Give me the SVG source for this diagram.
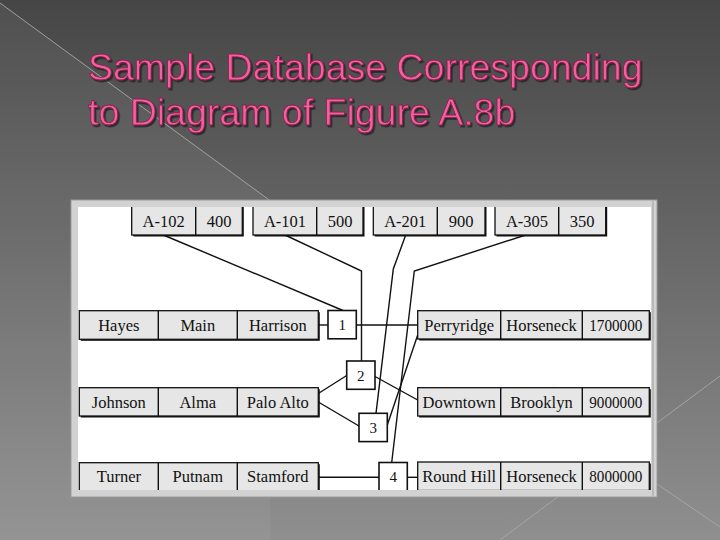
<svg xmlns="http://www.w3.org/2000/svg" width="720" height="540" viewBox="0 0 720 540">
<defs>
<linearGradient id="bg" x1="0" y1="0" x2="0" y2="1">
<stop offset="0" stop-color="#464646"/>
<stop offset="1" stop-color="#8f8f8f"/>
</linearGradient>
<filter id="ts" x="-5%" y="-20%" width="110%" height="140%">
<feDropShadow dx="1.6" dy="1.8" stdDeviation="0.6" flood-color="#222" flood-opacity="0.9"/>
</filter>
<clipPath id="panelClip"><rect x="78" y="207" width="573" height="283"/></clipPath>
</defs>
<style>
.title{font-family:"Liberation Sans",Arial,sans-serif;font-size:37.5px;fill:#f2609e;stroke:#8c1f4f;stroke-width:0.8px;filter:url(#ts)}
.cell{fill:#e6e6e6;stroke:#111;stroke-width:1.3}
.shadow{fill:#111}
.box{fill:#fff;stroke:#111;stroke-width:1.6}
.t{font-family:"Liberation Serif","Times New Roman",serif;font-size:16.5px;fill:#111;text-anchor:middle}
.n{font-family:"Liberation Serif","Times New Roman",serif;font-size:15px;fill:#111;text-anchor:middle}
.c{fill:none;stroke:#111;stroke-width:1.4}
.deco{fill:none;stroke:#a8a8a8;stroke-width:0.9}
</style>
<rect x="0" y="0" width="720" height="540" fill="url(#bg)"/>
<polygon points="0,3 270,200 270,540 0,540" fill="#ffffff" opacity="0.05"/>
<g id="decor">
<line class="deco" x1="0" y1="3" x2="272" y2="202"/>
<line class="deco" x1="720" y1="376" x2="500" y2="540"/>
<line class="deco" x1="600" y1="445" x2="720" y2="527"/>
</g>
<g id="title">
<text class="title" x="88" y="80">Sample Database Corresponding</text>
<text class="title" x="88" y="125">to Diagram of Figure A.8b</text>
</g>
<g id="panel">
<rect x="71" y="200" width="586" height="297" fill="#d2d2d2" stroke="#9a9a9a" stroke-width="1"/>
<rect x="78" y="207" width="573" height="283" fill="#ffffff"/>
<line x1="653" y1="201" x2="653" y2="496" stroke="#a0a0a0" stroke-width="1"/>
</g>
<g clip-path="url(#panelClip)">
<g id="connectors">
<polyline class="c" points="163.3,235 343,310.5"/>
<polyline class="c" points="285,235 361.5,271 361.5,361"/>
<polyline class="c" points="405.7,235 393.3,269 376,413.3"/>
<polyline class="c" points="525.7,235 414.3,271 391.7,462.5"/>
<line class="c" x1="318.3" y1="325" x2="328" y2="325"/>
<line class="c" x1="356.3" y1="325" x2="417.7" y2="325"/>
<line class="c" x1="417.7" y1="335" x2="387.3" y2="425"/>
<line class="c" x1="318.3" y1="393.5" x2="346.7" y2="375.5"/>
<line class="c" x1="318.3" y1="402" x2="359" y2="426"/>
<line class="c" x1="375" y1="376.5" x2="417.7" y2="400"/>
<line class="c" x1="318.3" y1="477.3" x2="379" y2="477.3"/>
<line class="c" x1="407.3" y1="477.3" x2="417.7" y2="477.3"/>
</g>
<g id="acct-A-102">
<rect class="shadow" x="133.2" y="196.5" width="110.6" height="40"/>
<rect class="cell" x="131.7" y="195" width="110.6" height="40"/>
<line class="c" x1="195.7" y1="195" x2="195.7" y2="235"/>
<text class="t" x="163.7" y="226.5">A-102</text>
<text class="t" x="219" y="226.5">400</text>
</g>
<g id="acct-A-101">
<rect class="shadow" x="254.5" y="196.5" width="110" height="40"/>
<rect class="cell" x="253" y="195" width="110" height="40"/>
<line class="c" x1="316.7" y1="195" x2="316.7" y2="235"/>
<text class="t" x="285" y="226.5">A-101</text>
<text class="t" x="340" y="226.5">500</text>
</g>
<g id="acct-A-201">
<rect class="shadow" x="374.8" y="196.5" width="111.7" height="40"/>
<rect class="cell" x="373.3" y="195" width="111.7" height="40"/>
<line class="c" x1="437.3" y1="195" x2="437.3" y2="235"/>
<text class="t" x="405.3" y="226.5">A-201</text>
<text class="t" x="461" y="226.5">900</text>
</g>
<g id="acct-A-305">
<rect class="shadow" x="496.5" y="196.5" width="110.7" height="40"/>
<rect class="cell" x="495" y="195" width="110.7" height="40"/>
<line class="c" x1="558.7" y1="195" x2="558.7" y2="235"/>
<text class="t" x="527" y="226.5">A-305</text>
<text class="t" x="582" y="226.5">350</text>
</g>
<g id="cust-Hayes">
<rect class="shadow" x="80.8" y="312.2" width="239" height="28.6"/>
<rect class="cell" x="79.3" y="310.7" width="239" height="28.6"/>
<line class="c" x1="158.3" y1="310.7" x2="158.3" y2="339.3"/>
<line class="c" x1="237.3" y1="310.7" x2="237.3" y2="339.3"/>
<text class="t" x="118.8" y="330.8">Hayes</text>
<text class="t" x="197.8" y="330.8">Main</text>
<text class="t" x="277.8" y="330.8">Harrison</text>
</g>
<g id="cust-Johnson">
<rect class="shadow" x="80.8" y="389.2" width="239" height="28.3"/>
<rect class="cell" x="79.3" y="387.7" width="239" height="28.3"/>
<line class="c" x1="158.3" y1="387.7" x2="158.3" y2="416"/>
<line class="c" x1="237.3" y1="387.7" x2="237.3" y2="416"/>
<text class="t" x="118.8" y="407.5">Johnson</text>
<text class="t" x="197.8" y="407.5">Alma</text>
<text class="t" x="277.8" y="407.5">Palo Alto</text>
</g>
<g id="cust-Turner">
<rect class="shadow" x="80.8" y="464.2" width="239" height="30"/>
<rect class="cell" x="79.3" y="462.7" width="239" height="30"/>
<line class="c" x1="158.3" y1="462.7" x2="158.3" y2="492"/>
<line class="c" x1="237.3" y1="462.7" x2="237.3" y2="492"/>
<text class="t" x="118.8" y="482.3">Turner</text>
<text class="t" x="197.8" y="482.3">Putnam</text>
<text class="t" x="277.8" y="482.3">Stamford</text>
</g>
<g id="branch-Perryridge">
<rect class="shadow" x="419.2" y="312.2" width="231.6" height="28.3"/>
<rect class="cell" x="417.7" y="310.7" width="231.6" height="28.3"/>
<line class="c" x1="500.7" y1="310.7" x2="500.7" y2="339"/>
<line class="c" x1="582.3" y1="310.7" x2="582.3" y2="339"/>
<text class="t" x="459.2" y="330.8">Perryridge</text>
<text class="t" x="541.5" y="330.8">Horseneck</text>
<text class="t" x="615.8" y="330.8" textLength="53" lengthAdjust="spacingAndGlyphs">1700000</text>
</g>
<g id="branch-Downtown">
<rect class="shadow" x="419.2" y="389.2" width="231.6" height="28.3"/>
<rect class="cell" x="417.7" y="387.7" width="231.6" height="28.3"/>
<line class="c" x1="500.7" y1="387.7" x2="500.7" y2="416"/>
<line class="c" x1="582.3" y1="387.7" x2="582.3" y2="416"/>
<text class="t" x="459.2" y="407.5">Downtown</text>
<text class="t" x="541.5" y="407.5">Brooklyn</text>
<text class="t" x="615.8" y="407.5" textLength="53" lengthAdjust="spacingAndGlyphs">9000000</text>
</g>
<g id="branch-RoundHill">
<rect class="shadow" x="419.2" y="463.5" width="231.6" height="28.5"/>
<rect class="cell" x="417.7" y="462" width="231.6" height="28.5"/>
<line class="c" x1="500.7" y1="462" x2="500.7" y2="490.5"/>
<line class="c" x1="582.3" y1="462" x2="582.3" y2="490.5"/>
<text class="t" x="459.2" y="482">Round Hill</text>
<text class="t" x="541.5" y="482">Horseneck</text>
<text class="t" x="615.8" y="482" textLength="53" lengthAdjust="spacingAndGlyphs">8000000</text>
</g>
<g id="box-1">
<rect class="box" x="328" y="310.5" width="28.3" height="28.3"/>
<text class="n" x="342.2" y="330">1</text>
</g>
<g id="box-2">
<rect class="box" x="346.7" y="361" width="28.3" height="28.3"/>
<text class="n" x="360.8" y="380.5">2</text>
</g>
<g id="box-3">
<rect class="box" x="359" y="413.3" width="28.3" height="28.3"/>
<text class="n" x="373.2" y="433">3</text>
</g>
<g id="box-4">
<rect class="box" x="379" y="462.5" width="28.3" height="28.3"/>
<text class="n" x="393.2" y="482">4</text>
</g>
</g>
</svg>
